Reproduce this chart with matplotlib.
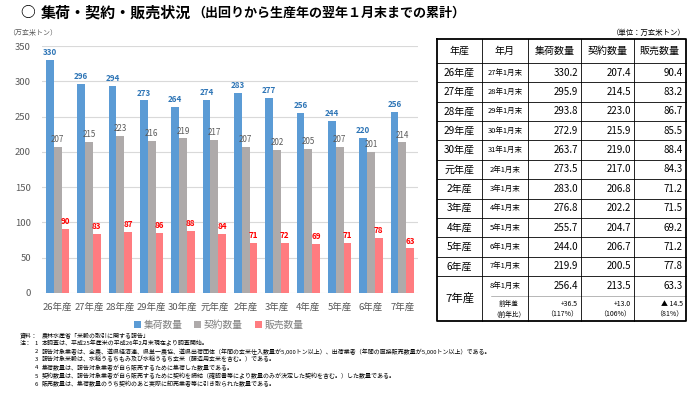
import matplotlib
matplotlib.use("Agg")
import matplotlib.pyplot as plt
import numpy as np

plt.rcParams['font.family'] = ['Noto Sans CJK JP', 'DejaVu Sans']

# ---------------- data ----------------
categories = ['26年産', '27年産', '28年産', '29年産', '30年産', '元年産',
              '2年産', '3年産', '4年産', '5年産', '6年産', '7年産']
months = ['27年1月末', '28年1月末', '29年1月末', '30年1月末', '31年1月末', '2年1月末',
          '3年1月末', '4年1月末', '5年1月末', '6年1月末', '7年1月末', '8年1月末']
shuka = [330.2, 295.9, 293.8, 272.9, 263.7, 273.5, 283.0, 276.8, 255.7, 244.0, 219.9, 256.4]
keiyaku = [207.4, 214.5, 223.0, 215.9, 219.0, 217.0, 206.8, 202.2, 204.7, 206.7, 200.5, 213.5]
hanbai = [90.4, 83.2, 86.7, 85.5, 88.4, 84.3, 71.2, 71.5, 69.2, 71.2, 77.8, 63.3]
series_names = ['集荷数量', '契約数量', '販売数量']
diff_prev = ['+36.5', '+13.0', '▲ 14.5']
ratio_prev = ['（117%）', '（106%）', '（81%）']
y_ticks = [0, 50, 100, 150, 200, 250, 300, 350]
note_heads = ['資料：', '1', '2', '3', '4', '5', '6']
note_texts = [
    '農林水産省「米穀の取引に関する報告」',
    '本調査は、平成25年産米の平成26年2月末現在より調査開始。',
    '報告対象業者は、全農、道県経済連、県単一農協、道県出荷団体（年間の玄米仕入数量が5,000トン以上）、出荷業者（年間の直接販売数量が5,000トン以上）である。',
    '報告対象米穀は、水稲うるちもみ及び水稲うるち玄米（醸造用玄米を含む。）である。',
    '集荷数量は、報告対象業者が自ら販売するために集荷した数量である。',
    '契約数量は、報告対象業者が自ら販売するために契約を締結（確認書等により数量のみが決定した契約を含む。）した数量である。',
    '販売数量は、集荷数量のうち契約のあと実際に卸売業者等に引き取られた数量である。',
]

colors = ['#5B9BD5', '#AEAAAA', '#FF7C80']
label_colors = ['#2E75B6', '#595959', '#FF0000']
label_weights = ['bold', 'normal', 'bold']

W, H = 700, 393
fig = plt.figure(figsize=(7.0, 3.93), dpi=100)
fig.patch.set_facecolor('white')

# ---------------- bar chart ----------------
ax = fig.add_axes([42 / W, 1 - 293 / H, (418 - 42) / W, (293 - 46) / H])
x = np.arange(len(categories))
bw = 0.25
all_series = [shuka, keiyaku, hanbai]
for i, (vals, c) in enumerate(zip(all_series, colors)):
    pos = x + (i - 1) * bw
    ax.bar(pos, vals, width=bw, color=c, zorder=3, label=series_names[i])
    for p, v in zip(pos, vals):
        ax.text(p, v + 4, f"{int(v + 0.5)}", ha='center', va='bottom',
                fontsize=5.8, color=label_colors[i], fontweight=label_weights[i],
                zorder=4)

ax.set_xlim(-0.5, len(categories) - 0.5)
ax.set_ylim(0, 350)
ax.set_yticks(y_ticks)
ax.yaxis.grid(True, color='#D9D9D9', linewidth=0.8, zorder=0)
ax.set_axisbelow(True)
for s in ax.spines.values():
    s.set_visible(False)
ax.tick_params(axis='both', length=0, labelsize=6.8, colors='#595959')
ax.tick_params(axis='y', pad=8)
ax.tick_params(axis='x', pad=7)
ax.set_xticks(x)
ax.set_xticklabels(categories)

leg = ax.legend(loc='upper center', bbox_to_anchor=(0.47, -0.082), ncol=3,
                frameon=False, fontsize=7, handlelength=0.7, handleheight=0.7,
                handletextpad=0.3, columnspacing=1.2, labelcolor='#7F7F7F',
                borderpad=0.2)

# ---------------- overlay (title, table, notes) ----------------
ov = fig.add_axes([0, 0, 1, 1])
ov.set_xlim(0, W)
ov.set_ylim(H, 0)
ov.axis('off')
ov.patch.set_alpha(0)

t0 = ov.text(20, 12.5, '○', fontsize=10.6, fontweight='bold',
             va='center', ha='left', color='black')
t1 = ov.text(41, 12.5, '集荷・契約・販売状況', fontsize=10.8, fontweight='bold',
             va='center', ha='left', color='black')
fig.canvas.draw()
r = fig.canvas.get_renderer()
bb = t1.get_window_extent(r)
ov.text(bb.x1 + 1, 13, '（出回りから生産年の翌年１月末までの累計）', fontsize=9.4,
        fontweight='bold', va='center', ha='left', color='black')

ov.text(8, 33, '（万玄米トン）', fontsize=5, color='#595959', va='center', ha='left')

# table geometry
cols = [437, 482, 528, 581, 634, 686]
top, head_bot = 39, 63
n_rows = len(categories) - 1
row_h = (276 - head_bot) / n_rows
row_lines = [head_bot + k * row_h for k in range(n_rows + 1)]
bottom = 321
sub_line = 296

lw_in = 0.6
for yl in row_lines:
    ov.plot([cols[0], cols[-1]], [yl, yl], color='black', lw=lw_in)
ov.plot([cols[1] + 9, cols[-1]], [sub_line, sub_line], color='#808080', lw=0.4)
for xc in cols[1:-1]:
    ov.plot([xc, xc], [top, bottom], color='black', lw=lw_in)
ov.plot([cols[0], cols[-1], cols[-1], cols[0], cols[0]],
        [top, top, bottom, bottom, top], color='black', lw=1.3)

ov.text(cols[-1], 33, '（単位：万玄米トン）', fontsize=5.3, ha='right', va='center',
        color='black')

headers = ['年産', '年月'] + series_names
for k, h in enumerate(headers):
    ov.text((cols[k] + cols[k + 1]) / 2, (top + head_bot) / 2, h, fontsize=7.2,
            ha='center', va='center')

pad = 3
for k in range(n_rows):
    yc = head_bot + (k + 0.5) * row_h
    ov.text((cols[0] + cols[1]) / 2, yc, categories[k], fontsize=7.2,
            ha='center', va='center')
    ov.text((cols[1] + cols[2]) / 2, yc, months[k], fontsize=5.4,
            ha='center', va='center')
    for j, vals in enumerate(all_series):
        ov.text(cols[3 + j] - pad, yc, f"{vals[k]:.1f}", fontsize=7,
                ha='right', va='center')

k = n_rows
ov.text((cols[0] + cols[1]) / 2, (row_lines[-1] + bottom) / 2, categories[k],
        fontsize=8.2, ha='center', va='center')
yc = (row_lines[-1] + sub_line) / 2
ov.text((cols[1] + cols[2]) / 2, yc, months[k], fontsize=5.4, ha='center', va='center')
for j, vals in enumerate(all_series):
    ov.text(cols[3 + j] - pad, yc, f"{vals[k]:.1f}", fontsize=7, ha='right', va='center')
y1, y2 = sub_line + 7.5, sub_line + 18.5
ov.text((cols[1] + cols[2]) / 2 + 4, y1, '前年差', fontsize=4.8, ha='center', va='center')
ov.text((cols[1] + cols[2]) / 2 + 4, y2, '（前年比）', fontsize=4.8, ha='center', va='center')
for j in range(3):
    ov.text(cols[3 + j] - pad, y1, diff_prev[j], fontsize=5, ha='right', va='center')
    ov.text(cols[3 + j] - pad, y2, ratio_prev[j], fontsize=5, ha='right', va='center')

# notes
nfs = 4.3
for n, (hd, tx) in enumerate(zip(note_heads, note_texts)):
    yy = 335 + n * 8.2
    if n == 0:
        ov.text(20, yy, hd, fontsize=nfs, ha='left', va='center', color='black')
    else:
        if n == 1:
            ov.text(20, yy, '注：', fontsize=nfs, ha='left', va='center', color='black')
        ov.text(38, yy, hd, fontsize=nfs, ha='right', va='center', color='black')
    ov.text(42, yy, tx, fontsize=nfs, ha='left', va='center', color='black')

fig.savefig('out.png', dpi=100, facecolor='white')
